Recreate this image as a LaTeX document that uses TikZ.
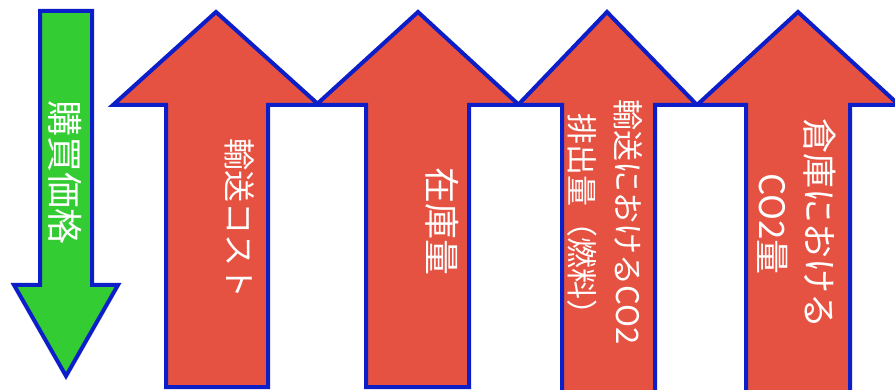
\documentclass[tikz,border=0pt]{standalone}
\usepackage{fontspec}
\newfontfamily\jpfont{Noto Sans CJK JP}
\definecolor{upred}{RGB}{229,82,66}
\definecolor{downgreen}{RGB}{51,204,51}
\definecolor{rimblue}{RGB}{12,30,200}

\begin{document}
\begin{tikzpicture}[x=1pt,y=-1pt,
  uparrow/.style={draw=rimblue,line width=4pt,fill=upred},
  downarrow/.style={draw=rimblue,line width=4pt,fill=downgreen},
  arrowtext/.style={text=white,rotate=-90,align=center,inner sep=0pt}]

\useasboundingbox (0,0) rectangle (895,390);
\clip (0,0) rectangle (895,390);

% down arrow
\draw[downarrow] (40,11)--(92,11)--(92,285)--(118,285)--(66,376)--(14,285)--(40,285)--cycle;

% up arrows
\draw[uparrow] (166,387)--(166,105)--(113,105)--(216,12)--(319,105)--(268,105)--(268,387)--cycle;
\draw[uparrow] (366,387)--(366,105)--(316,105)--(418,12)--(519,105)--(469,105)--(469,387)--cycle;
\draw[uparrow] (562,395)--(562,105)--(518,105)--(607,12)--(697,105)--(655,105)--(655,395)--cycle;
\draw[uparrow] (746,395)--(746,105)--(697,105)--(798,12)--(899,105)--(850,105)--(850,395)--cycle;

 \node[arrowtext,font=\jpfont\fontsize{36}{40}\selectfont] (price) at (65,173) {購買価格};
 \node[arrowtext,font=\jpfont\fontsize{32}{40}\selectfont] (freight) at (240,219) {輸送コスト};
 \node[arrowtext,font=\jpfont\fontsize{36}{40}\selectfont] (stock) at (442,222) {在庫量};
 \node[arrowtext,font=\jpfont\fontsize{31}{46}\selectfont] (fuel) at (605,222) {輸送におけるCO2\\排出量（燃料）};
 \node[arrowtext,font=\jpfont\fontsize{35}{47}\selectfont] (depot) at (797,224) {倉庫における\\CO2量};

\end{tikzpicture}
\end{document}
